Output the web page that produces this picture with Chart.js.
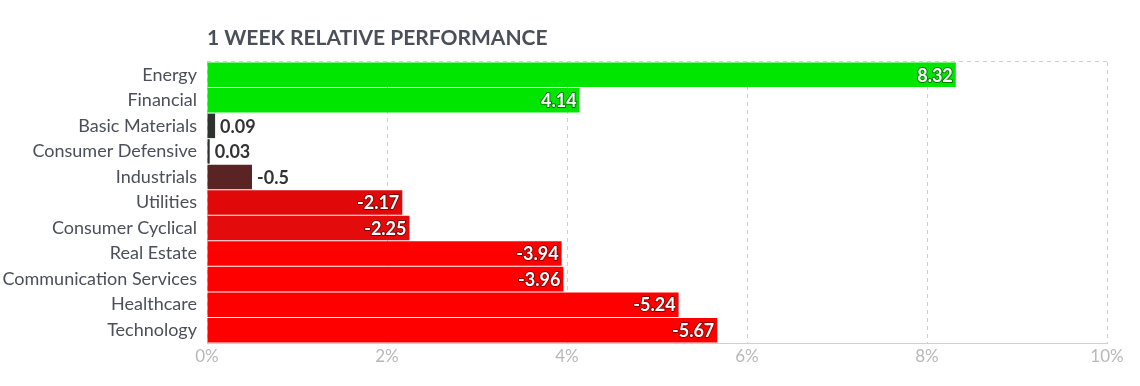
<!DOCTYPE html>
<html><head><meta charset="utf-8">
<script src="https://cdn.jsdelivr.net/npm/chart.js@4.4.0/dist/chart.umd.min.js"></script>
<style>html,body{margin:0;padding:0;background:#fff}#wrap{width:1140px;height:386px}</style>
</head><body><div id="wrap"><canvas id="c" width="1140" height="386"></canvas></div>
<script>
const categories = ["Energy","Financial","Basic Materials","Consumer Defensive","Industrials","Utilities","Consumer Cyclical","Real Estate","Communication Services","Healthcare","Technology"];
const values = [8.32,4.14,0.09,0.03,-0.5,-2.17,-2.25,-3.94,-3.96,-5.24,-5.67];
const barColors = ["#00e600","#00e600","#2e322f","#2e322f","#5b2424","#e00808","#e30b0b","#ff0000","#ff0000","#ff0000","#ff0000"];
const xTicks = [0,2,4,6,8,10];
const title = "1 WEEK RELATIVE PERFORMANCE";

const FONT = "Lato, 'Noto Sans', sans-serif";

const framePlugin = {
  id:'frame',
  beforeDatasetsDraw(chart){
    const {ctx, chartArea:a} = chart;
    ctx.save();
    ctx.strokeStyle = '#d0d0d0'; ctx.lineWidth = 1; ctx.setLineDash([4,4]);
    ctx.beginPath();
    ctx.moveTo(a.left, Math.round(a.top)-0.5); ctx.lineTo(a.right, Math.round(a.top)-0.5);
    ctx.moveTo(a.left, Math.round(a.bottom)+0.5); ctx.lineTo(a.right, Math.round(a.bottom)+0.5);
    ctx.stroke();
    ctx.restore();
  },
  afterDraw(chart){
    const {ctx, chartArea:a} = chart;
    ctx.save();
    ctx.font = "bold 21px " + FONT;
    ctx.fillStyle = '#4a4f5a';
    ctx.textBaseline = 'middle';
    ctx.textAlign = 'left';
    ctx.fillText(title, a.left, 38);
    ctx.restore();
  }
};

const labelPlugin = {
  id:'vlabels',
  afterDatasetsDraw(chart){
    const {ctx} = chart;
    const meta = chart.getDatasetMeta(0);
    ctx.save();
    ctx.font = "bold 18px " + FONT;
    ctx.textBaseline = 'middle';
    meta.data.forEach((bar, i) => {
      const txt = String(values[i]);
      const w = bar.x - bar.base;
      if (w > 60) {
        ctx.textAlign = 'right';
        ctx.lineWidth = 2;
        ctx.lineJoin = 'round';
        ctx.strokeStyle = 'rgba(0,0,0,0.45)';
        ctx.strokeText(txt, bar.x - 3, bar.y + 1);
        ctx.fillStyle = '#ffffff';
        ctx.fillText(txt, bar.x - 3, bar.y + 1);
      } else {
        ctx.textAlign = 'left';
        ctx.fillStyle = '#333333';
        ctx.fillText(txt, bar.x + 5, bar.y + 1);
      }
    });
    ctx.restore();
  }
};

new Chart(document.getElementById('c'), {
  type:'bar',
  data:{
    labels: categories,
    datasets:[{
      data: values.map(v => Math.abs(v)),
      backgroundColor: barColors,
      borderWidth:0,
      barPercentage:0.96,
      categoryPercentage:1
    }]
  },
  options:{
    indexAxis:'y',
    responsive:false,
    animation:false,
    devicePixelRatio:1,
    layout:{padding:{top:62,right:33,left:0,bottom:0}},
    plugins:{legend:{display:false},tooltip:{enabled:false},title:{display:false}},
    scales:{
      x:{
        min:0,max:10,
        afterBuildTicks(s){ s.ticks = xTicks.map(v=>({value:v})); },
        afterFit(s){ s.height = 43; },
        grid:{color:'#d0d0d0', drawTicks:false, tickLength:0},
        border:{display:true, dash:[4,4], color:'#d0d0d0'},
        ticks:{padding:3, color:'#b8b8b8', font:{family:FONT, size:17}, callback:v=>v+'%'}
      },
      y:{
        afterFit(s){ s.width = 207; },
        grid:{display:false, drawTicks:false},
        border:{display:false},
        ticks:{padding:10, color:'#4a4f5a', font:{family:FONT, size:18}, autoSkip:false}
      }
    }
  },
  plugins:[framePlugin,labelPlugin]
});
</script></body></html>
